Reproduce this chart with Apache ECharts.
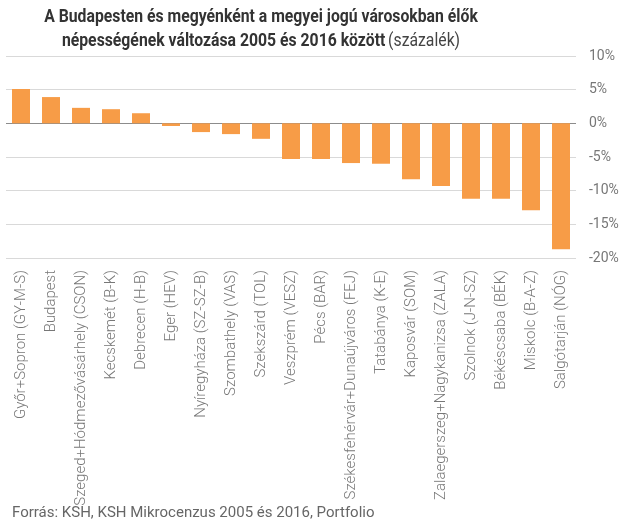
<!doctype html>
<html>
<head>
    <meta charset="utf-8">
    <script src="https://cdn.jsdelivr.net/npm/echarts@6/dist/echarts.min.js"></script>
    <style>
        html, body { margin: 0; padding: 0; background: #fff; }
        #chart { width: 624px; height: 530px; }
    </style>
</head>
<body>
<div id="chart"></div>
<script type="text/javascript">
    // városok (megyei jogú) és Budapest
    var cities = [
        'Győr+Sopron (GY-M-S)', 'Budapest', 'Szeged+Hódmezővásárhely (CSON)', 'Kecskemét (B-K)',
        'Debrecen (H-B)', 'Eger (HEV)', 'Nyíregyháza (SZ-SZ-B)', 'Szombathely (VAS)', 'Szekszárd (TOL)',
        'Veszprém (VESZ)', 'Pécs (BAR)', 'Székesfehérvár+Dunaújváros (FEJ)', 'Tatabánya (K-E)',
        'Kaposvár (SOM)', 'Zalaegerszeg+Nagykanizsa (ZALA)', 'Szolnok (J-N-SZ)', 'Békéscsaba (BÉK)',
        'Miskolc (B-A-Z)', 'Salgótarján (NÓG)'
    ];
    // népességváltozás 2005-2016, %
    var change = [5.1, 3.9, 2.3, 2.1, 1.5, -0.4, -1.3, -1.6, -2.3, -5.3, -5.3, -5.9, -6.0,
        -8.3, -9.3, -11.2, -11.2, -12.9, -18.7];
    var yTicks = { min: -20, max: 10, step: 5 };

    var chart = echarts.init(document.getElementById('chart'));
    var gridColors = ['#d9d9d9', '#d9d9d9', '#d9d9d9', '#d9d9d9', '#8c8c8c', '#d9d9d9', '#d9d9d9'];

    chart.setOption({
        animation: false,
        graphic: [{
            // cím: keskeny betű helyett vízszintesen összenyomott Roboto
            type: 'text',
            x: 261,
            y: 5,
            scaleX: 0.83,
            style: {
                text: '{b|A Budapesten és megyénként a megyei jogú városokban élők}\n' +
                    '{b|népességének változása 2005 és 2016 között} {n|(százalék)}',
                align: 'center',
                rich: {
                    b: { fontFamily: 'Roboto', fontWeight: 'bold', fontSize: 19, fill: '#333', lineHeight: 24 },
                    n: { fontFamily: 'Roboto', fontSize: 19, fill: '#444', lineHeight: 24 }
                }
            }
        }, {
            type: 'text',
            left: 12,
            top: 506,
            style: {
                text: 'Forrás: KSH, KSH Mikrocenzus 2005 és 2016, Portfolio',
                font: '15px Roboto',
                fill: '#666'
            }
        }],
        grid: { left: 6, right: 48, top: 56, bottom: 272 },
        xAxis: {
            type: 'category',
            data: cities,
            axisLine: { show: false },
            axisTick: { show: false },
            axisLabel: {
                interval: 0,
                rotate: 90,
                margin: 12,
                color: '#777',
                fontFamily: 'Roboto',
                fontWeight: 300,
                fontSize: 15
            }
        },
        yAxis: {
            type: 'value',
            position: 'right',
            min: yTicks.min,
            max: yTicks.max,
            interval: yTicks.step,
            axisLine: { show: false },
            axisTick: { show: false },
            axisLabel: {
                formatter: '{value}%',
                margin: 13,
                color: '#777',
                fontFamily: 'Roboto',
                fontSize: 14
            },
            splitLine: { lineStyle: { color: gridColors, width: 1.2 } }
        },
        series: [{
            type: 'bar',
            data: change,
            barWidth: '60%',
            itemStyle: { color: '#f79c47' }
        }]
    });
</script>
</body>
</html>
